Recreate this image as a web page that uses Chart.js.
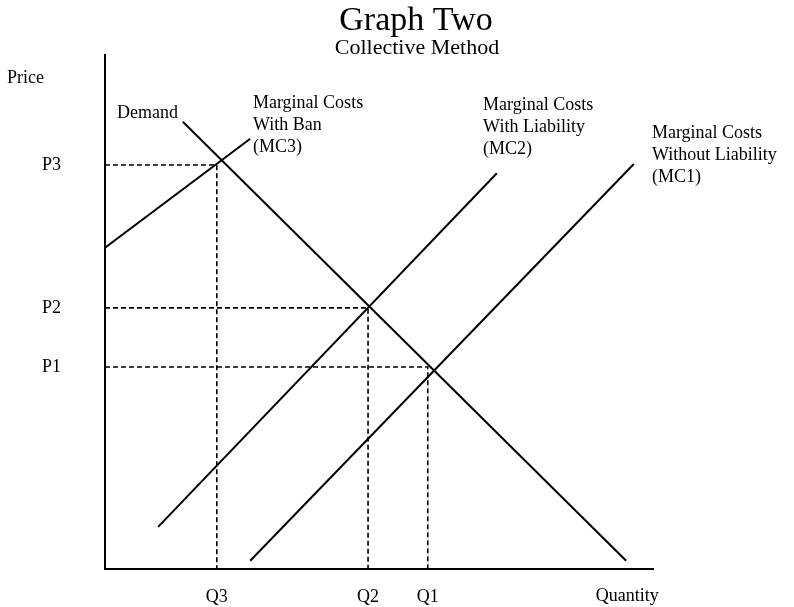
<!DOCTYPE html>
<html>
<head>
<meta charset="utf-8">
<script src="https://cdn.jsdelivr.net/npm/chart.js@4/dist/chart.umd.min.js"></script>
<style>
html,body{margin:0;padding:0;background:#fff;}
#wrap{width:794px;height:607px;}
canvas{display:block;}
</style>
</head>
<body>
<div id="wrap"><canvas id="c" width="794" height="607"></canvas></div>
<script>
// ---- data (quantity on x, price on y; arbitrary units 0..100) ----
const demandQ = [14.2, 95.1];
const demandP = [87.0, 1.6];
const mc3Q = [0, 26.5];
const mc3P = [62.5, 83.7];
const mc2Q = [9.7, 71.5];
const mc2P = [8.2, 77.0];
const mc1Q = [26.5, 96.5];
const mc1P = [1.6, 78.8];
// equilibrium points: MC3 (ban), MC2 (liability), MC1 (no liability)
const eqQ = [20.4, 48.0, 58.9];
const eqP = [78.6, 50.8, 39.3];
const qTickLabels = ['Q3', 'Q2', 'Q1'];
const pTickLabels = ['P3', 'P2', 'P1'];

const SERIF = "'Liberation Serif', 'DejaVu Serif', 'Times New Roman', serif";
const toPts = (qs, ps) => qs.map((q, i) => ({x: q, y: ps[i]}));

const solid = (label, qs, ps) => ({
  label, data: toPts(qs, ps), showLine: true, borderColor: '#000',
  borderWidth: 2, pointRadius: 0, tension: 0, fill: false
});
const dashed = (i) => ({
  label: 'guide ' + qTickLabels[i],
  data: [{x: 0, y: eqP[i]}, {x: eqQ[i], y: eqP[i]}, {x: eqQ[i], y: 0}],
  showLine: true, borderColor: '#000', borderWidth: 1.6, borderDash: [5, 3],
  pointRadius: 0, tension: 0, fill: false
});

const titleLines = [
  {text: 'Graph Two', size: 34, cx: 416, cy: 21},
  {text: 'Collective Method', size: 22, cx: 417, cy: 48}
];
const curveNotes = [
  {lines: ['Demand'], q: 2.2, p: 88.7},
  {lines: ['Marginal Costs', 'With Ban', '(MC3)'], q: 27.0, p: 90.7},
  {lines: ['Marginal Costs', 'With Liability', '(MC2)'], q: 69.0, p: 90.3},
  {lines: ['Marginal Costs', 'Without Liability', '(MC1)'], q: 99.8, p: 84.8}
];
const axisNames = [
  {text: 'Price', q: -17.9, p: 95.5, align: 'left'},
  {text: 'Quantity', q: 95.3, p: -5.4, align: 'center'}
];

const notesPlugin = {
  id: 'notes',
  afterDraw(chart) {
    const ctx = chart.ctx, xs = chart.scales.x, ys = chart.scales.y;
    ctx.save();
    ctx.fillStyle = '#000';
    ctx.textBaseline = 'middle';
    ctx.textAlign = 'center';
    titleLines.forEach(t => {
      ctx.font = t.size + 'px ' + SERIF;
      ctx.fillText(t.text, t.cx, t.cy);
    });
    ctx.font = '18px ' + SERIF;
    curveNotes.forEach(n => {
      ctx.textAlign = 'left';
      const x = xs.getPixelForValue(n.q), y0 = ys.getPixelForValue(n.p);
      n.lines.forEach((t, k) => ctx.fillText(t, x, y0 + k * 22));
    });
    axisNames.forEach(a => {
      ctx.textAlign = a.align;
      ctx.fillText(a.text, xs.getPixelForValue(a.q), ys.getPixelForValue(a.p));
    });
    ctx.restore();
  }
};

new Chart(document.getElementById('c'), {
  type: 'scatter',
  data: {
    datasets: [
      solid('Demand', demandQ, demandP),
      solid('MC3', mc3Q, mc3P),
      solid('MC2', mc2Q, mc2P),
      solid('MC1', mc1Q, mc1P),
      dashed(0), dashed(1), dashed(2)
    ]
  },
  options: {
    responsive: false,
    animation: false,
    devicePixelRatio: 1,
    layout: {padding: {left: 0, right: 141, top: 55, bottom: 0}},
    plugins: {
      legend: {display: false},
      tooltip: {enabled: false},
      title: {display: false}
    },
    scales: {
      x: {
        type: 'linear', min: 0, max: 100,
        grid: {display: false, drawTicks: false},
        border: {display: true, color: '#000', width: 2},
        afterBuildTicks: s => { s.ticks = eqQ.map(v => ({value: v})); },
        afterFit: s => { s.height = 38; s.paddingLeft = 0; s.paddingRight = 0; },
        ticks: {
          color: '#000', padding: 17, autoSkip: false, maxRotation: 0,
          font: {family: SERIF, size: 18},
          callback: v => qTickLabels[eqQ.indexOf(v)]
        }
      },
      y: {
        type: 'linear', min: 0, max: 100,
        grid: {display: false, drawTicks: false},
        border: {display: true, color: '#000', width: 2},
        afterBuildTicks: s => { s.ticks = eqP.map(v => ({value: v})); },
        afterFit: s => { s.width = 105; s.paddingTop = 0; s.paddingBottom = 0; },
        ticks: {
          color: '#000', padding: 44, autoSkip: false,
          font: {family: SERIF, size: 18},
          callback: v => pTickLabels[eqP.indexOf(v)]
        }
      }
    }
  },
  plugins: [notesPlugin]
});
</script>
</body>
</html>
